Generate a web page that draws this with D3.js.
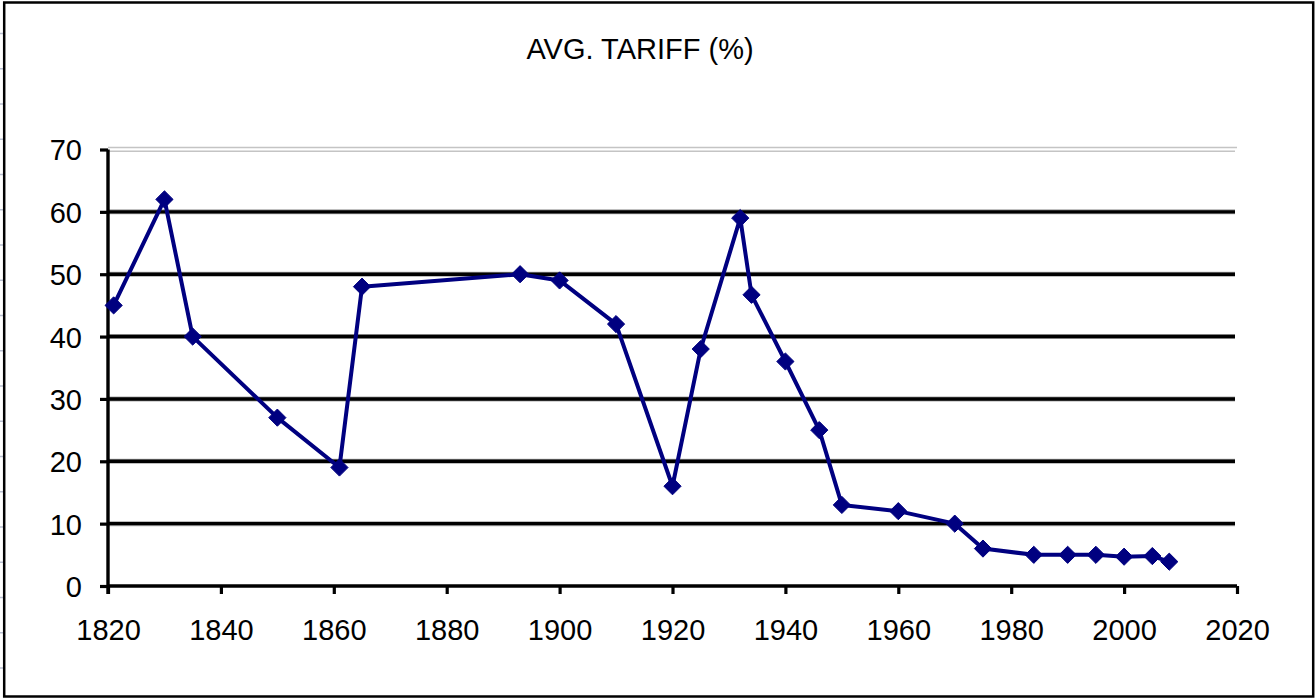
<!DOCTYPE html>
<html>
<head>
<meta charset="utf-8">
<script src="https://cdn.jsdelivr.net/npm/d3@7"></script>
<style>
  html, body { margin: 0; padding: 0; background: #fff; }
  svg { display: block; }
  text { font-family: "Liberation Sans", Arial, sans-serif; fill: #000; }
</style>
</head>
<body>
<svg id="chart" width="1316" height="698"></svg>
<script>
const title = "AVG. TARIFF (%)";
const years = [1821, 1830, 1835, 1850, 1861, 1865, 1893, 1900, 1910, 1920, 1925, 1932, 1934, 1940, 1946, 1950, 1960, 1970, 1975, 1984, 1990, 1995, 2000, 2005, 2008];
const values = [45, 62, 40, 27, 19, 48, 50, 49, 42, 16, 38, 59, 46.7, 36, 25, 13, 12, 10, 6, 5, 5, 5, 4.7, 4.8, 3.9];
const xTicks = [1820, 1840, 1860, 1880, 1900, 1920, 1940, 1960, 1980, 2000, 2020];
const yTicks = [0, 10, 20, 30, 40, 50, 60, 70];

const svg = d3.select("#chart");
const x = d3.scaleLinear().domain([1820, 2020]).range([108, 1237]);
const y = d3.scaleLinear().domain([0, 70]).range([586, 149.5]);

// left-edge decorative marks
const marks = d3.range(19);
svg.append("g").selectAll("line").data(marks).join("line")
  .attr("x1", 0).attr("x2", 3)
  .attr("y1", d => 33.5 + d * 35.25).attr("y2", d => 33.5 + d * 35.25)
  .attr("stroke", "#b8bfd0").attr("stroke-width", 1.5);

// outer border
svg.append("rect")
  .attr("x", 4.2).attr("y", 2.5).attr("width", 1309).attr("height", 694)
  .attr("fill", "#fff").attr("stroke", "#000").attr("stroke-width", 2.5);

// title
svg.append("text")
  .attr("x", 640).attr("y", 59)
  .attr("text-anchor", "middle")
  .attr("font-size", 29)
  .text(title);

// gridlines
const grid = svg.append("g");
const inner = yTicks.filter(d => d > 0 && d < 70);
grid.selectAll("line.halo").data(inner).join("line")
  .attr("class", "halo")
  .attr("x1", x(1820)).attr("x2", x(2020) - 2)
  .attr("y1", d => y(d)).attr("y2", d => y(d))
  .attr("stroke", "#aaa").attr("stroke-width", 5);
grid.selectAll("line.main").data(inner).join("line")
  .attr("class", "main")
  .attr("x1", x(1820)).attr("x2", x(2020) - 2)
  .attr("y1", d => y(d)).attr("y2", d => y(d))
  .attr("stroke", "#000").attr("stroke-width", 3.4);
// top (70) line: double gray
grid.append("line")
  .attr("x1", x(1820)).attr("x2", x(2020))
  .attr("y1", y(70) - 2).attr("y2", y(70) - 2)
  .attr("stroke", "#c4c4c4").attr("stroke-width", 1.5);
grid.append("line")
  .attr("x1", x(1820)).attr("x2", x(2020) - 2)
  .attr("y1", y(70) + 1.8).attr("y2", y(70) + 1.8)
  .attr("stroke", "#c4c4c4").attr("stroke-width", 1.5);

// axes
const xAxis = d3.axisBottom(x).tickValues(xTicks).tickSize(8).tickPadding(25).tickFormat(d3.format("d"));
const gx = svg.append("g").attr("transform", `translate(0,${y(0)})`).call(xAxis);
gx.select(".domain").attr("d", `M${x(1820)},0H${x(2020)}`).attr("stroke", "#000").attr("stroke-width", 3.4);
gx.selectAll(".tick line").attr("stroke", "#000").attr("stroke-width", 3.2);
gx.selectAll(".tick text").attr("font-size", 29).attr("font-family", "Liberation Sans, Arial, sans-serif").attr("fill", "#000").attr("dy", "0.71em");

const yAxis = d3.axisLeft(y).tickValues(yTicks).tickSize(8).tickPadding(18);
const gy = svg.append("g").attr("transform", `translate(${x(1820)},0)`).call(yAxis);
gy.select(".domain").attr("d", `M0,${y(70)}V${y(0) + 8}`).attr("stroke", "#000").attr("stroke-width", 3.4);
gy.selectAll(".tick line").attr("stroke", "#000").attr("stroke-width", 3.2);
gy.selectAll(".tick text").attr("font-size", 29).attr("font-family", "Liberation Sans, Arial, sans-serif").attr("fill", "#000").attr("dy", "0.36em");

// series
const data = years.map((yr, i) => ({ yr, v: values[i] }));
const line = d3.line().x(d => x(d.yr)).y(d => y(d.v));
svg.append("path").datum(data)
  .attr("d", line)
  .attr("fill", "none")
  .attr("stroke", "#000080")
  .attr("stroke-width", 4)
  .attr("stroke-linejoin", "round");

const r = 8.6;
svg.append("g").selectAll("path").data(data).join("path")
  .attr("d", d => `M${x(d.yr)},${y(d.v) - r}L${x(d.yr) + r},${y(d.v)}L${x(d.yr)},${y(d.v) + r}L${x(d.yr) - r},${y(d.v)}Z`)
  .attr("fill", "#000080")
  .attr("stroke", "#000080").attr("stroke-width", 1).attr("stroke-linejoin", "round");
</script>
</body>
</html>
